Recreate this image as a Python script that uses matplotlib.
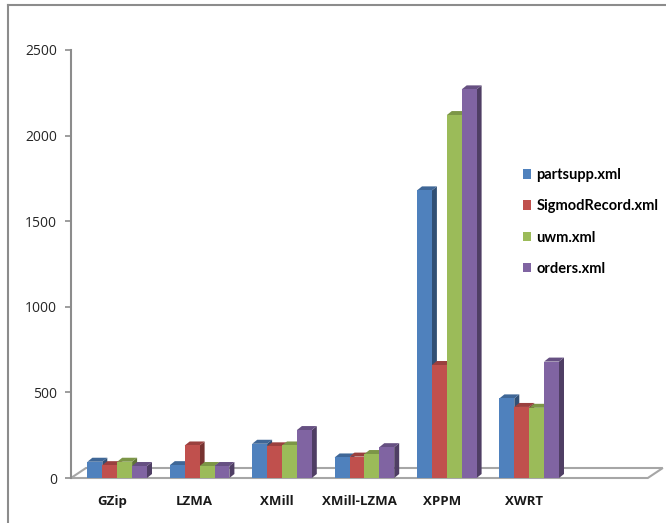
import numpy as np
import matplotlib.pyplot as plt
from matplotlib.patches import Polygon
from matplotlib.lines import Line2D
from matplotlib.colors import to_rgb

categories = ['GZip', 'LZMA', 'XMill', 'XMill-LZMA', 'XPPM', 'XWRT']
series = ['partsupp.xml', 'SigmodRecord.xml', 'uwm.xml', 'orders.xml']
partsupp = [95, 75, 200, 120, 1680, 465]
sigmod = [75, 190, 185, 125, 660, 415]
uwm = [95, 70, 190, 140, 2120, 410]
orders = [70, 70, 280, 180, 2270, 680]
colors = ['#4F81BD', '#C0504D', '#9BBB59', '#8064A2']

values = [partsupp, sigmod, uwm, orders]

plt.rcParams['font.family'] = ['Open Sans', 'DejaVu Sans']

fig = plt.figure(figsize=(6.66, 5.23), dpi=100)
W, H = 666, 523
x0px, x1px = 71, 662
y0px, y1px = 478, 50
ax = fig.add_axes([x0px / W, 1 - y0px / H, (x1px - x0px) / W, (y0px - y1px) / H])

px_per_x = 82.4
px_per_y = (y0px - y1px) / 2500
ax.set_xlim(-0.5, -0.5 + (x1px - x0px) / px_per_x)
ax.set_ylim(0, 2500)

def shade(c, f):
    r, g, b = to_rgb(c)
    return (r * f, g * f, b * f)

# floor
fdx = 15 / px_per_x
fdy = 10 / px_per_y
xr = 6.5
ax.add_patch(Polygon([(-0.5, 0), (xr, 0), (xr + fdx, fdy), (-0.5 + fdx, fdy)],
                     closed=True, facecolor='white', edgecolor='#a6a6a6',
                     linewidth=1.5, zorder=1, clip_on=False))

# 3d bars
bw = 14.9 / px_per_x
dx = 5 / px_per_x
dy = 4 / px_per_y
shift = 5 / px_per_x
z = 2
for i in range(len(categories)):
    start = i + shift - 2 * bw
    for s in range(len(series)):
        v = values[s][i]
        xl = start + s * bw
        xr_ = xl + bw
        c = colors[s]
        side = Polygon([(xr_, 0), (xr_ + dx, dy), (xr_ + dx, v + dy), (xr_, v)],
                       closed=True, facecolor=shade(c, 0.62), edgecolor='none', zorder=z)
        top = Polygon([(xl, v), (xr_, v), (xr_ + dx, v + dy), (xl + dx, v + dy)],
                      closed=True, facecolor=shade(c, 0.8), edgecolor='none', zorder=z)
        front = Polygon([(xl, 0), (xr_, 0), (xr_, v), (xl, v)],
                        closed=True, facecolor=c, edgecolor='none', zorder=z + 1)
        ax.add_patch(side)
        ax.add_patch(top)
        ax.add_patch(front)
        z += 2

ax.set_xticks(range(len(categories)))
ax.set_xticklabels(categories, fontsize=9.5, fontweight='bold', color='#1a1a1a')
ax.tick_params(axis='x', length=0, pad=12)
ax.set_yticks([0, 500, 1000, 1500, 2000, 2500])
ax.tick_params(axis='y', length=4, width=1.2, color='#8c8c8c', pad=6,
               labelsize=10, labelcolor='#262626')
for sp in ['top', 'right', 'bottom']:
    ax.spines[sp].set_visible(False)
ax.spines['left'].set_color('#8c8c8c')
ax.spines['left'].set_linewidth(1.5)
ax.patch.set_alpha(0)

handles = [Polygon([(0, 0)], closed=True, facecolor=c, edgecolor='none') for c in colors]
fig.legend(handles, series, loc='upper left', bbox_to_anchor=(510 / W, 1 - 155 / H),
           frameon=False, handlelength=0.55, handleheight=0.65, handletextpad=0.35,
           labelspacing=1.18, prop={'family': ['Lato', 'DejaVu Sans'],
                                    'weight': 'bold', 'size': 10.5})

# outer frame
fig.add_artist(Line2D([8 / W, 8 / W], [0, 1 - 5 / H], color='#8c8c8c', lw=1.5))
fig.add_artist(Line2D([8 / W, 1], [1 - 5 / H, 1 - 5 / H], color='#8c8c8c', lw=1.5))

fig.savefig('out.png', dpi=100)
